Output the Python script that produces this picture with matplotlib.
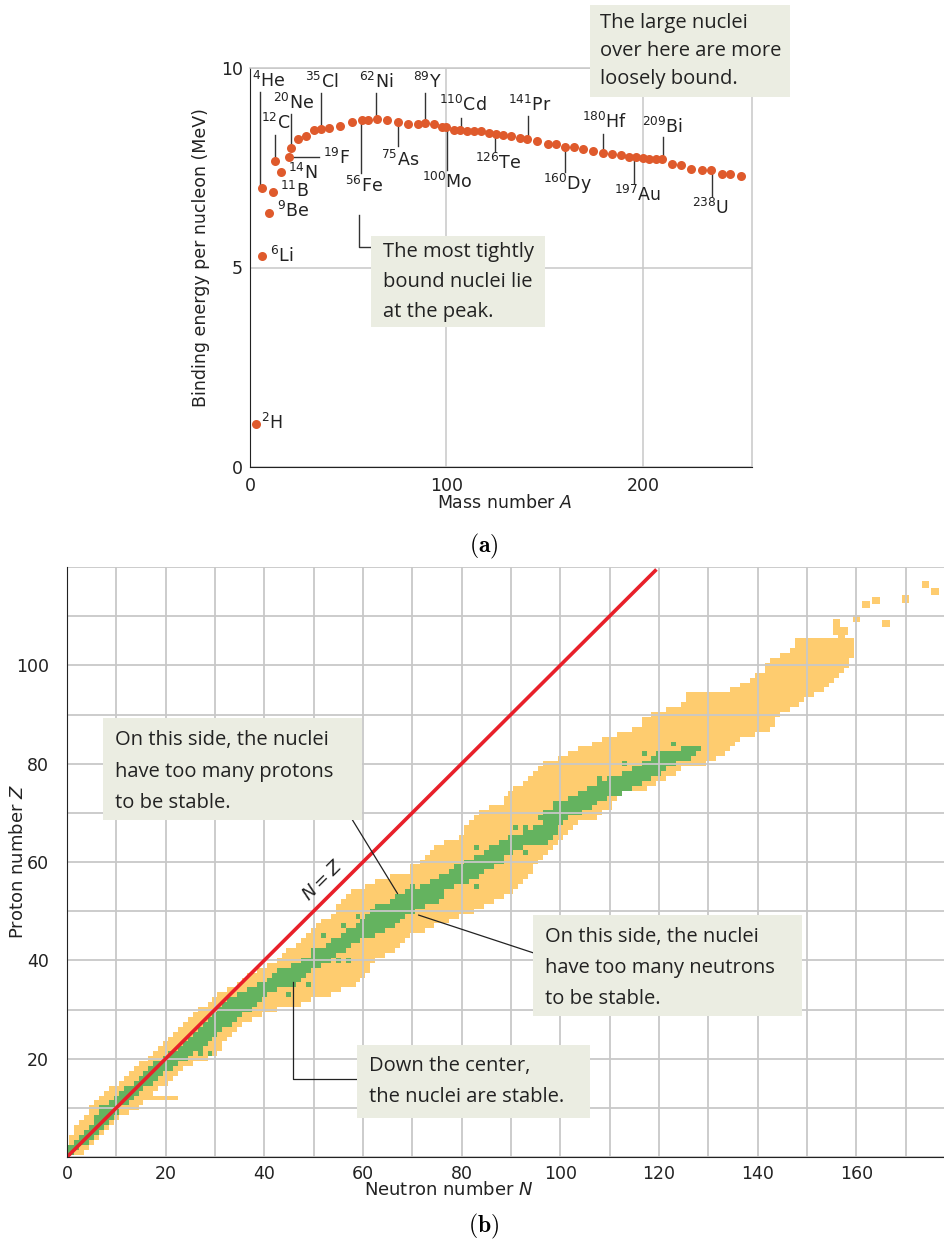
import matplotlib
matplotlib.use("Agg")
import matplotlib.pyplot as plt
from matplotlib.colors import ListedColormap
from matplotlib.patches import Rectangle
import numpy as np

# ---------------- data: (a) binding energy per nucleon ----------------
mass_number = [3.0, 5.9, 6.1, 9.8, 11.8, 12.7, 15.6, 20.0, 20.8,
               24.3, 28.5, 32.5, 36.2, 40.3, 45.8, 51.9, 56.8, 60.1, 64.4,
               69.6, 75.4, 80.5, 85.3, 89.3, 93.5, 97.5, 100.0, 103.6, 106.9,
               110.3, 113.9, 117.4, 121.4, 125.4, 128.8, 133.0, 137.3, 141.2,
               146.1, 151.7, 155.9, 160.1, 164.7, 169.4, 174.4, 179.5, 184.4,
               188.6, 192.7, 196.6, 199.8, 203.0, 206.4, 209.8, 214.7, 219.3,
               224.7, 229.9, 234.7, 240.0, 244.4, 250.1]
binding_energy = [1.08, 7.00, 5.29, 6.37, 6.90, 7.68, 7.39, 7.76, 8.00,
                  8.23, 8.29, 8.45, 8.48, 8.49, 8.55, 8.65, 8.69, 8.69, 8.71,
                  8.69, 8.65, 8.59, 8.59, 8.61, 8.60, 8.53, 8.53, 8.45, 8.44,
                  8.42, 8.43, 8.43, 8.36, 8.35, 8.31, 8.29, 8.25, 8.23,
                  8.17, 8.10, 8.10, 8.02, 8.03, 7.98, 7.91, 7.86, 7.85,
                  7.81, 7.77, 7.76, 7.75, 7.71, 7.71, 7.71, 7.60, 7.57,
                  7.48, 7.44, 7.44, 7.35, 7.34, 7.29]

# label: (mass, symbol, text x, text y, leader x, leader y0, leader y1)
nuclide_labels = [
    ("4", "He", 1.0, 9.67, 5.1, 9.40, 7.05),
    ("20", "Ne", 11.7, 9.12, 20.8, 8.85, 8.05),
    ("12", "C", 5.6, 8.62, 12.7, 8.32, 7.72),
    ("35", "Cl", 28.0, 9.65, 36.0, 9.37, 8.50),
    ("62", "Ni", 55.4, 9.65, 64.1, 9.37, 8.72),
    ("89", "Y", 82.9, 9.65, 89.0, 9.37, 8.62),
    ("110", "Cd", 96.1, 9.07, 107.3, 8.75, 8.45),
    ("141", "Pr", 131.2, 9.07, 141.4, 8.80, 8.24),
    ("180", "Hf", 168.8, 8.65, 179.5, 8.35, 7.87),
    ("209", "Bi", 199.3, 8.52, 210.0, 8.27, 7.72),
    ("19", "F", 37.1, 7.74, None, None, None),
    ("14", "N", 19.3, 7.36, None, None, None),
    ("11", "B", 15.3, 6.92, None, None, None),
    ("9", "Be", 13.7, 6.42, None, None, None),
    ("6", "Li", 10.2, 5.29, None, None, None),
    ("2", "H", 5.6, 1.10, None, None, None),
    ("56", "Fe", 48.3, 7.04, 56.4, 8.68, 7.37),
    ("75", "As", 66.6, 7.69, 75.2, 8.64, 8.05),
    ("100", "Mo", 87.4, 7.14, 100.2, 8.52, 7.44),
    ("126", "Te", 114.4, 7.62, 124.6, 8.34, 7.92),
    ("160", "Dy", 149.0, 7.09, 160.1, 8.01, 7.39),
    ("197", "Au", 185.1, 6.82, 195.2, 7.74, 7.12),
    ("238", "U", 225.2, 6.49, 234.9, 7.43, 6.79),
]

# ---------------- data: (b) chart of nuclides ----------------
proton_z = list(range(1, 106))
orange_lo = [0, 0, 1, 1, 2, 2, 3, 4, 5, 5, 6, 7, 8, 9, 11, 12, 13, 14, 15, 17,
             18, 19, 20, 21, 22, 23, 24, 25, 26, 27, 29, 30, 31, 33, 35, 36, 37, 39, 41, 43,
             44, 45, 47, 48, 49, 50, 51, 52, 54, 55, 55, 56, 57, 58, 61, 63, 66, 70, 70, 72,
             73, 74, 75, 77, 80, 81, 81, 82, 83, 84, 86, 89, 89, 90, 91, 93, 94, 95, 96, 97,
             100, 102, 104, 107, 109, 112, 115, 117, 117, 119, 122, 125, 126, 126, 135, 137, 139, 140, 142, 142,
             143, 145, 147, 148, 148]
orange_hi = [3, 4, 5, 6, 7, 8, 9, 10, 12, 14, 15, 22, 17, 18, 20, 21, 22, 23, 25, 28,
             30, 31, 31, 32, 33, 34, 35, 37, 39, 42, 47, 49, 53, 55, 58, 59, 60, 61, 61, 62,
             64, 66, 67, 68, 69, 72, 74, 77, 79, 82, 84, 86, 88, 90, 91, 92, 93, 94, 94, 95,
             96, 97, 98, 99, 100, 101, 102, 103, 107, 108, 110, 110, 111, 111, 117, 119, 121, 123, 124, 129,
             131, 133, 134, 135, 136, 139, 142, 143, 143, 144, 146, 148, 149, 151, 153, 154, 155, 156, 157, 158,
             158, 159, 159, 159, 159]
# isolated heavy nuclides (Z, N)
extra_orange = [(106, 157), (107, 156), (107, 157.5), (108.6, 156), (109.5, 160),
                (112.4, 162), (113.2, 164), (108.5, 166), (113.5, 170), (116.5, 174), (115, 176)]

stable_z = list(range(1, 84))
green_lo = [0, 0, 2, 3, 4, 5, 6, 6, 7, 7, 9, 10, 11, 12, 14, 15, 16, 17, 18, 20,
            21, 23, 24, 25, 26, 27, 28, 29, 30, 31, 32, 33, 35, 37, 39, 41, 42, 44, 46, 48,
            50, 51, 53, 54, 56, 57, 59, 60, 61, 62, 64, 66, 67, 69, 72, 74, 76, 78, 79, 81,
            83, 85, 86, 88, 90, 93, 95, 97, 96, 97, 99, 99, 102, 104, 106, 108, 110, 113, 115, 117,
            119, 120, 125]
green_hi = [1, 2, 4, 5, 6, 7, 8, 9, 10, 10, 12, 13, 14, 15, 17, 18, 19, 21, 22, 24,
            25, 27, 28, 29, 30, 31, 33, 34, 35, 37, 38, 39, 40, 42, 46, 47, 48, 49, 51, 53,
            54, 56, 57, 59, 62, 64, 66, 67, 68, 70, 72, 75, 76, 76, 78, 81, 83, 84, 86, 88,
            88, 90, 92, 97, 98, 99, 99, 100, 101, 104, 106, 107, 109, 112, 114, 116, 118, 120, 121, 123,
            126, 127, 128]
extra_green = [(21, 27), (21, 29), (33, 45), (35, 49), (38, 43), (40, 55), (40, 57),
               (42, 50), (45, 52), (45, 61), (47, 56), (47, 65), (49, 59), (51, 63),
               (55, 70), (55, 73), (55, 83), (62, 93), (63, 83), (67, 91), (67, 93),
               (77, 108), (80, 113), (82, 117), (84, 123)]

# ---------------- figure ----------------
W, H = 945, 1242
fig = plt.figure(figsize=(W / 100, H / 100), dpi=100)
plt.rcParams["font.family"] = ["DejaVu Sans"]
box_font = ["Open Sans", "DejaVu Sans"]
box_color = "#ebede2"
dot_color = "#df5a2c"
grid_color = "#c8c8c8"
orange = "#fecc6f"
green = "#64b35f"


def fx(px):
    return px / W


def fy(py):
    return 1 - py / H


def note_box(x0, y0, x1, y1, lines, tx, ty0, dy):
    fig.patches.append(Rectangle((fx(x0), fy(y1)), fx(x1) - fx(x0), fy(y0) - fy(y1),
                                 transform=fig.transFigure, facecolor=box_color,
                                 edgecolor="none", zorder=5))
    for i, s in enumerate(lines):
        fig.text(fx(tx), fy(ty0 + i * dy), s, family=box_font, fontsize=14.5,
                 color="#222222", ha="left", va="center", zorder=6)


# ----- (a)
ax1 = fig.add_axes([fx(250), fy(467), fx(752) - fx(250), fy(68) - fy(467)])
ax1.set_xlim(0, 255.5)
ax1.set_ylim(0, 10)
ax1.set_xticks([0, 100, 200])
ax1.set_yticks([0, 5, 10])
ax1.tick_params(length=0, labelsize=12.5, colors="#222222")
ax1.tick_params(axis="x", pad=7)
ax1.tick_params(axis="y", pad=5)
ax1.grid(True, color=grid_color, lw=1.1)
ax1.set_axisbelow(True)
for s in ["top", "right"]:
    ax1.spines[s].set_color(grid_color)
    ax1.spines[s].set_linewidth(1.1)
for s in ["left", "bottom"]:
    ax1.spines[s].set_color("#222222")

ax1.plot(mass_number, binding_energy, "o", color=dot_color, ms=6.5, mec="none", zorder=4)

for sup, name, tx, ty, lx, ly0, ly1 in nuclide_labels:
    ax1.text(tx, ty, r"$^{%s}$%s" % (sup, name), fontsize=12.5, color="#222222",
             ha="left", va="center", zorder=5)
    if lx is not None:
        ax1.plot([lx, lx], [ly0, ly1], color="#333333", lw=1, zorder=3)
# 19F horizontal leader
ax1.plot([21.5, 35.1], [7.76, 7.76], color="#333333", lw=1, zorder=3)
# leader to the "tightly bound" box
ax1.plot([55.4, 55.4, 61.5], [6.32, 5.51, 5.51], color="#333333", lw=1, zorder=3)

fig.text(fx(505), fy(503), r"Mass number $A$", ha="center", va="center", fontsize=12.5,
         color="#222222")
fig.text(fx(201), fy(258), "Binding energy per nucleon (MeV)", rotation=90,
         ha="center", va="center", fontsize=12.5, color="#222222")
fig.text(fx(484), fy(546), r"$\mathbf{(a)}$", math_fontfamily="cm", ha="center",
         va="center", fontsize=17)

note_box(371, 236, 545, 327, ["The most tightly", "bound nuclei lie", "at the peak."],
         383, 252, 30)
note_box(590, 5, 790, 97, ["The large nuclei", "over here are more", "loosely bound."],
         600, 23, 28)

# ----- (b)
ax2 = fig.add_axes([fx(67), fy(1157), fx(945) - fx(67), fy(567) - fy(1157)])
ax2.set_xlim(0, 178)
ax2.set_ylim(0, 120)

grid = np.zeros((121, 181))
for z, lo, hi in zip(proton_z, orange_lo, orange_hi):
    grid[z, lo:hi + 1] = 1
for z, lo, hi in zip(stable_z, green_lo, green_hi):
    grid[z, lo:hi + 1] = 2
for z, n in extra_green:
    grid[z, n] = 2
ax2.imshow(np.ma.masked_equal(grid, 0), cmap=ListedColormap([orange, green]),
           vmin=1, vmax=2, origin="lower", extent=(-0.5, 180.5, -0.5, 120.5),
           interpolation="nearest", aspect="auto", zorder=1)
for z, n in extra_orange:
    ax2.add_patch(Rectangle((n - 0.75, z - 0.75), 1.5, 1.5, facecolor=orange,
                            edgecolor="none", zorder=1))

ax2.set_xticks(np.arange(0, 171, 10))
ax2.set_yticks(np.arange(0, 121, 10))
ax2.set_xticklabels([str(v) if v % 20 == 0 else "" for v in range(0, 171, 10)])
ax2.set_yticklabels([str(v) if (v % 20 == 0 and 0 < v < 120) else "" for v in range(0, 121, 10)])
ax2.tick_params(length=0, labelsize=12.5, colors="#222222")
ax2.tick_params(axis="x", pad=6)
ax2.tick_params(axis="y", pad=13)
ax2.grid(True, color=grid_color, lw=1.3, zorder=2)
ax2.set_axisbelow(False)
for s in ["top", "right"]:
    ax2.spines[s].set_visible(False)
for s in ["left", "bottom"]:
    ax2.spines[s].set_color("#222222")
    ax2.spines[s].set_zorder(4)

ax2.plot([0, 119.5], [0, 119.5], color="#e8202a", lw=2.6, zorder=3, solid_capstyle="butt")
ax2.text(51.8, 56.3, r"$N = Z$", rotation=45, ha="center", va="center", fontsize=13,
         color="#222222")

ax2.plot([57.9, 67.0], [68.5, 53.6], color="#222222", lw=0.9, zorder=4, clip_on=False)
ax2.plot([71.3, 94.6], [49.2, 41.5], color="#222222", lw=0.9, zorder=4, clip_on=False)
ax2.plot([45.9, 45.9, 59.1], [35.6, 15.9, 15.9], color="#222222", lw=0.9, zorder=4,
         clip_on=False)

note_box(103, 718, 362, 820, ["On this side, the nuclei", "have too many protons",
                              "to be stable."], 115, 740, 31.5)
note_box(533, 915, 802, 1016, ["On this side, the nuclei", "have too many neutrons",
                               "to be stable."], 545, 937, 31)
note_box(357, 1045, 590, 1118, ["Down the center,", "the nuclei are stable."],
         369, 1066, 31)

fig.text(fx(449), fy(1190), r"Neutron number $N$", ha="center", va="center",
         fontsize=13, color="#222222")
fig.text(fx(18), fy(861), r"Proton number $Z$", rotation=90, ha="center", va="center",
         fontsize=13, color="#222222")
fig.text(fx(484), fy(1226), r"$\mathbf{(b)}$", math_fontfamily="cm", ha="center",
         va="center", fontsize=17)

fig.savefig("out.png", dpi=100)
